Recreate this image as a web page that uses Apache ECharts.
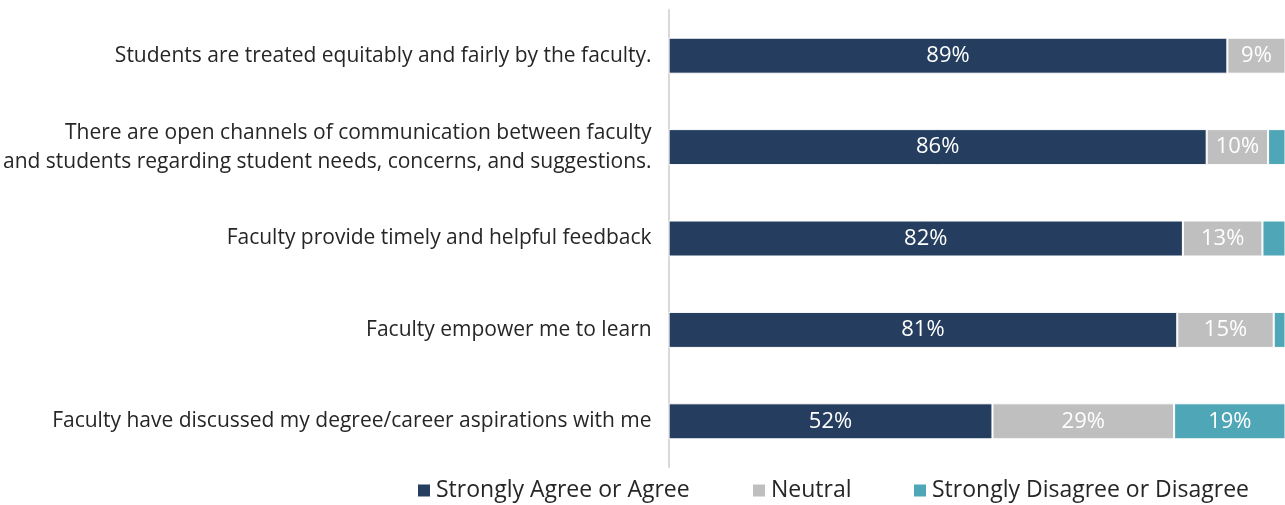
<!DOCTYPE html>
<html>
<head>
<meta charset="utf-8">
<script src="https://cdn.jsdelivr.net/npm/echarts@6/dist/echarts.min.js"></script>
<style>
  html, body { margin: 0; padding: 0; background: #fff; }
  #chart { width: 1285px; height: 505px; }
</style>
</head>
<body>
<div id="chart"></div>
<script>
var chart = echarts.init(document.getElementById('chart'));

var questions = [
  'Students are treated equitably and fairly by the faculty.',
  'There are open channels of communication between faculty\nand students regarding student needs, concerns, and suggestions.',
  'Faculty provide timely and helpful feedback',
  'Faculty empower me to learn',
  'Faculty have discussed my degree/career aspirations with me'
];
var agree = [89.2, 85.9, 82.1, 81.2, 51.7];
var neutral = [9.4, 9.8, 12.7, 15.4, 29.0];
var disagree = [1.4, 4.3, 5.2, 3.4, 19.3];

var seriesNames = ['Strongly Agree or Agree', 'Neutral', 'Strongly Disagree or Disagree'];
var colors = ['#253e5f', '#bfbfbf', '#4fa6b6'];
// the original picture is cut off on the right, so the visible axis stops short of 100
var axisMax = 98.4;

function makeSeries(name, data, color) {
  return {
    name: name,
    type: 'bar',
    stack: 'total',
    barWidth: 36,
    clip: true,
    data: data,
    itemStyle: { color: color, borderColor: '#ffffff', borderWidth: 1 },
    label: {
      show: true,
      position: 'inside',
      color: '#ffffff',
      fontSize: 22,
      fontFamily: 'Open Sans',
      formatter: function (p) {
        return p.value < 6 ? '' : Math.round(p.value) + '%';
      }
    }
  };
}

function legendAt(left, name) {
  return {
    left: left,
    bottom: -2,
    itemWidth: 14,
    itemHeight: 14,
    itemGap: 5,
    icon: 'rect',
    textStyle: { fontSize: 23, color: '#262626', fontFamily: 'Open Sans' },
    data: [name]
  };
}

var option = {
  animation: false,
  color: colors,
  grid: { left: 662, right: 0, top: 10, bottom: 38, containLabel: false },
  legend: [
    legendAt(411, seriesNames[0]),
    legendAt(746, seriesNames[1]),
    legendAt(907, seriesNames[2])
  ],
  xAxis: {
    type: 'value',
    min: 0,
    max: axisMax,
    show: false
  },
  yAxis: {
    type: 'category',
    inverse: true,
    data: questions,
    axisLine: { show: true, lineStyle: { color: '#d9d9d9', width: 2 } },
    axisTick: { show: false },
    axisLabel: {
      margin: 17,
      fontSize: 21,
      color: '#262626',
      fontFamily: 'Open Sans',
      align: 'right',
      lineHeight: 29
    }
  },
  series: [
    makeSeries(seriesNames[0], agree, colors[0]),
    makeSeries(seriesNames[1], neutral, colors[1]),
    makeSeries(seriesNames[2], disagree, colors[2])
  ]
};
chart.setOption(option);
</script>
</body>
</html>
